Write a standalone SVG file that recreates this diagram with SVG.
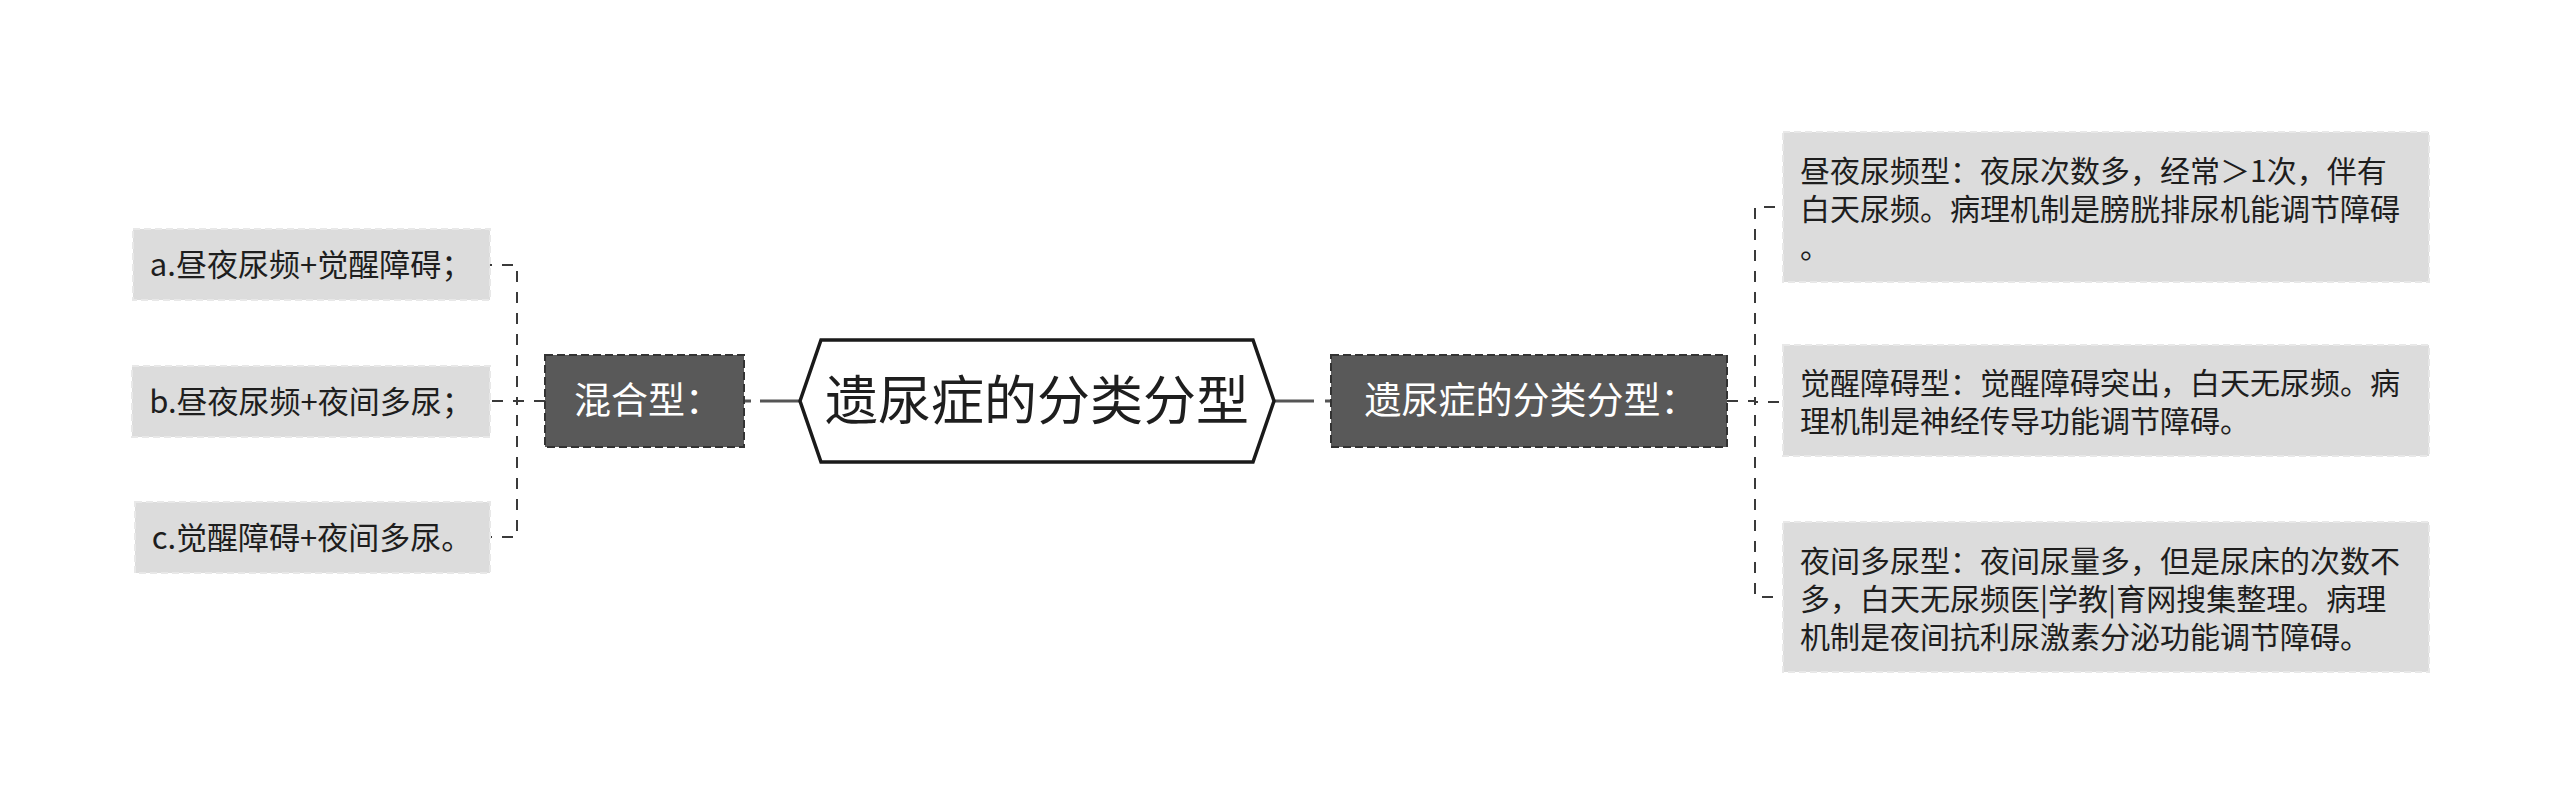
<svg xmlns="http://www.w3.org/2000/svg" width="2560" height="803" viewBox="0 0 2560 803">
<style>
text { font-family: "Noto Sans CJK SC", "Noto Sans", sans-serif; }
.light rect { fill: #dcdcdc; stroke: #e8e8e8; stroke-width: 2; stroke-dasharray: 7 4; }
.light text { fill: #1e1e1e; font-size: 30px; }
.light text.c { font-size: 31px; text-anchor: middle; }
.dark rect { fill: #595959; stroke: #333333; stroke-width: 2; stroke-dasharray: 8 4; }
.dark text { fill: #ffffff; font-size: 37px; text-anchor: middle; }
.conn path { fill: none; stroke: #3a3a3a; stroke-width: 2; stroke-dasharray: 11 10; }
.conn line { stroke: #555555; stroke-width: 3; }
</style>
<rect width="2560" height="803" fill="#ffffff"/>
<g id="connectors" class="conn">
  <line x1="800" y1="401" x2="745" y2="401" stroke-dasharray="40 9 6 60"/>
  <line x1="1274" y1="401" x2="1330" y2="401" stroke-dasharray="40 11 5 60"/>
  <path d="M545,401 H517 V265 H490"/>
  <path d="M545,401 H517 V401 H490"/>
  <path d="M545,401 H517 V537 H490"/>
  <path d="M1727,401 H1755 V207 H1783"/>
  <path d="M1727,401 H1755 V402 H1783"/>
  <path d="M1727,401 H1755 V597 H1783"/>
</g>
<g id="root">
  <polygon points="800,401 821,340 1253,340 1274,401 1253,462 821,462" fill="#ffffff" stroke="#1a1a1a" stroke-width="3.5" stroke-linejoin="miter"/>
  <text x="1037" y="420" font-size="53" fill="#1e1e1e" text-anchor="middle">遗尿症的分类分型</text>
</g>
<g id="mixed" class="dark">
  <rect x="545" y="355" width="199" height="92"/>
  <text x="648" y="414">混合型：</text>
</g>
<g id="types" class="dark">
  <rect x="1331" y="355" width="396" height="92"/>
  <text x="1531" y="414">遗尿症的分类分型：</text>
</g>
<g id="mixed-a" class="light">
  <rect x="133" y="229" width="357" height="71"/>
  <text class="c" x="311" y="276">a.昼夜尿频+觉醒障碍；</text>
</g>
<g id="mixed-b" class="light">
  <rect x="132" y="366" width="358" height="71"/>
  <text class="c" x="311" y="413">b.昼夜尿频+夜间多尿；</text>
</g>
<g id="mixed-c" class="light">
  <rect x="135" y="502" width="355" height="71"/>
  <text class="c" x="312" y="549">c.觉醒障碍+夜间多尿。</text>
</g>
<g id="type-1" class="light">
  <rect x="1783" y="132" width="646" height="150"/>
  <text x="1800" y="182"><tspan x="1800" y="182">昼夜尿频型：夜尿次数多，经常＞1次，伴有</tspan><tspan x="1800" y="220">白天尿频。病理机制是膀胱排尿机能调节障碍</tspan><tspan x="1800" y="258">。</tspan></text>
</g>
<g id="type-2" class="light">
  <rect x="1783" y="345" width="646" height="111"/>
  <text x="1800" y="394"><tspan x="1800" y="394">觉醒障碍型：觉醒障碍突出，白天无尿频。病</tspan><tspan x="1800" y="432">理机制是神经传导功能调节障碍。</tspan></text>
</g>
<g id="type-3" class="light">
  <rect x="1783" y="522" width="646" height="150"/>
  <text x="1800" y="572"><tspan x="1800" y="572">夜间多尿型：夜间尿量多，但是尿床的次数不</tspan><tspan x="1800" y="610">多，白天无尿频医|学教|育网搜集整理。病理</tspan><tspan x="1800" y="648">机制是夜间抗利尿激素分泌功能调节障碍。</tspan></text>
</g>
</svg>
